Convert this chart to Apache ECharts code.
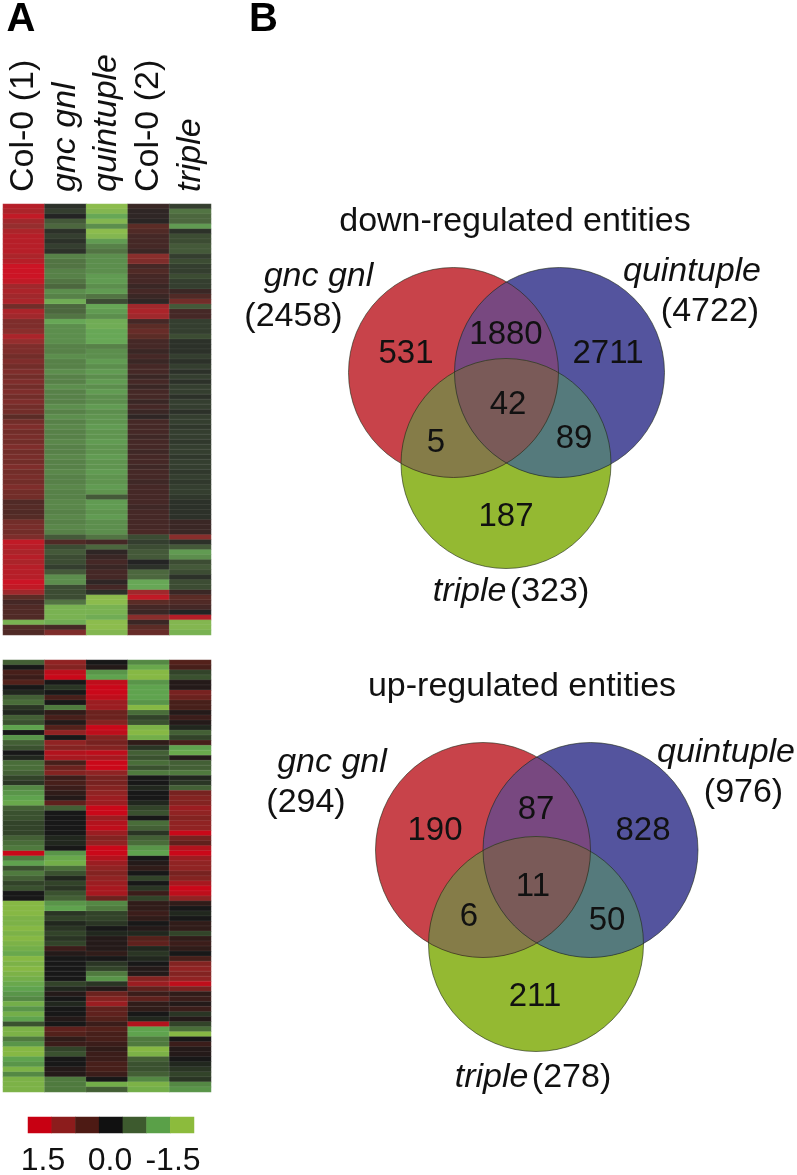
<!DOCTYPE html>
<html><head><meta charset="utf-8">
<style>html,body{margin:0;padding:0;background:#fff}#c{width:797px;height:1175px}</style>
<script src="https://cdn.jsdelivr.net/npm/echarts@6/dist/echarts.min.js"></script>
</head><body><div id="c"></div>
<script>
// ---------- data ----------
const columns = ['Col-0 (1)', 'gnc gnl', 'quintuple', 'Col-0 (2)', 'triple'];
const italicColumns = ['gnc gnl', 'quintuple', 'triple'];
const legendValues = [1.5, 1, 0.5, 0, -0.5, -1, -1.5];
const legendLabels = ['1.5', '0.0', '-1.5'];
const downRows = [
[1.3,-.1,-1.4,.2,-.2],[1.2,-.2,-1.3,.1,-.6],[1.4,0,-1,.1,-.5],[1.1,-.4,-1.3,.05,-.5],[1,-.5,-.8,.5,-.9],
[1.2,-.1,-1.4,.4,-.1],[1.3,-.2,-1.3,.3,-.3],[1.3,-.1,-.9,.3,-.3],[1.3,-.2,-.7,.3,-.4],[1.3,-.1,-.6,.2,-.4],
[1.2,-.7,-.8,.9,-.2],[1.3,-.6,-.8,.8,-.3],[1.5,-.6,-.8,.3,-.2],[1.5,-.7,-.8,.4,-.2],[1.5,-.7,-.9,.3,-.3],
[1.4,-.6,-.9,.3,-.2],[1.1,-.5,-.8,.2,-.2],[1.2,-.8,-.9,.3,.2],[1.1,-.7,-.6,.2,.4],[1.2,-1.1,-.3,.1,.7],
[.7,-.5,-1,1.1,-.4],[1.2,-.5,-.9,1.2,.3],[1.1,-.6,-.8,1.1,.3],[.8,-1,-1.1,.3,-.2],[.8,-.8,-1.1,.5,-.2],
[.9,-.8,-1,.6,-.2],[1.2,-.8,-1,.5,-.3],[1,-.8,-1,.3,-.1],[.8,-.7,-.7,.3,-.1],[.8,-.7,-.8,.2,-.1],
[.7,-.8,-.8,.3,-.2],[.8,-.7,-.9,.2,-.1],[.7,-.7,-.8,.3,-.2],[.8,-.8,-.9,.3,-.1],[.7,-.7,-.8,.2,-.2],
[.8,-.7,-.9,.3,-.1],[.7,-.8,-.8,.2,-.2],[.8,-.7,-.9,.3,-.2],[.7,-.7,-.8,.3,-.1],[.8,-.7,-.8,.2,-.2],
[.7,-.8,-.9,.3,-.2],[.7,-.7,-.8,.2,-.1],[.5,-.8,-.85,.1,-.2],[.7,-.7,-.85,.3,-.2],[.8,-.75,-.9,.3,-.15],
[.7,-.7,-.85,.3,-.2],[.75,-.7,-.85,.25,-.2],[.7,-.75,-.9,.3,-.15],[.8,-.7,-.85,.3,-.2],[.7,-.7,-.85,.25,-.2],
[.75,-.75,-.9,.3,-.15],[.7,-.7,-.85,.3,-.2],[.8,-.7,-.85,.25,-.2],[.7,-.75,-.9,.3,-.15],[.75,-.7,-.85,.3,-.2],
[.7,-.7,-.85,.25,-.15],[.8,-.75,-.9,.3,-.2],[.7,-.7,-.85,.3,-.2],[.7,-.7,-.4,.3,-.15],[.4,-.75,-.9,.3,-.1],
[.45,-.75,-.9,.25,-.1],[.4,-.7,-.85,.3,-.1],[.45,-.75,-.9,.3,-.1],[.7,-.7,-.8,.3,.2],[.75,-.75,-.8,.3,.2],
[.7,-.7,-.8,.35,.2],[.8,-.4,-.6,-.3,.9],[1.4,.4,.3,-.2,-.1],[1.3,-.3,-.5,-.3,-.4],[1.2,-.4,.1,-.4,-.9],
[1.3,-.3,.2,-.4,-.8],[1.2,-.3,.3,0,-.3],[1.3,-.2,.2,-.1,-.4],[1.3,-.4,.3,-.5,-.3],[1.3,-.8,.3,-.5,-.1],
[1.5,-.8,.1,-1,-.3],[1.4,-.3,.3,-1,-.3],[1.1,-.3,-.1,1.1,.2],[.5,-.3,-1.4,1.4,.5],[.3,-.6,-1.4,.5,.4],
[.4,-1.2,-1.2,.3,.3],[.4,-1.2,-1.2,.2,0],[.4,-1.2,-1.1,.9,1.3],[-1.2,-1.1,-1.4,.2,-1.3],[.4,.3,-1.4,.5,-1.3],
[.4,.8,-1.3,.6,-1.2]
];
const upRows = [
[-.5,1,0,-.8,.5],[0,.9,.1,-1.1,.4],[.4,1.4,-.9,-1.4,-.3],[.3,1.5,-1,-1.4,-.4],[.5,0,1.4,-.9,.1],
[0,-.2,1.5,-1,.1],[-.1,0,1.5,-1,.8],[-.5,.4,1.4,-1,.7],[-.6,0,1.1,-.9,.4],[-.2,-.7,1.1,-1.4,.4],
[-.1,.2,.7,-.6,.1],[-.5,.4,.7,-.3,.3],[-.4,.1,.9,-.4,.1],[-1,.5,1.5,-1.3,-.1],[0,1,1.4,-1.4,-.5],
[-.9,0,.9,-1.2,-.3],[-.5,1,.8,.2,.4],[-.4,.9,.9,-.2,-1],[0,1.3,1.4,-.5,-1.1],[-.1,1.2,1.2,-.4,.1],
[-.6,.4,1.5,-.6,-.5],[-.6,.7,1.5,-.4,-.5],[-.5,.9,1,-.7,-.7],[-.3,.3,.8,0,-.1],[-.2,.4,.8,0,-.2],
[-.8,.3,.9,-.1,-.5],[-.9,.2,1,0,.8],[-1,.1,1.1,0,.9],[-1.1,.6,1.1,-.1,.9],[-.5,-.5,1.5,-.3,1.1],
[-.4,0,1.5,-.4,1],[-.4,0,1.1,0,.9],[-.3,0,1.3,-.6,1],[-.3,0,1.4,-.5,1],[-.3,0,1.1,-.2,1.5],
[-.5,-.1,.9,-.5,.8],[-.6,-.1,1,-.6,.6],[-.7,0,1.5,-.9,1.3],[1.5,-.9,1.5,-1,1.5],[-.7,-1.1,1.3,0,1.1],
[-1,-1.2,1.1,.1,1],[-.4,-.6,1,.2,1],[-.7,-.4,.9,0,.8],[-.5,-.1,1,-.3,.9],[-.3,-.3,1.1,0,1.2],
[-.4,-.2,1.2,-.2,1.5],[0,-.4,1.2,.3,1.4],[0,-.5,.7,-.3,1],[-1.4,-.9,-.8,.2,.2],[-1.4,-1,-.7,.2,0],
[-1.4,-.2,-.3,.3,-.1],[-1.3,-.3,-.3,.2,0],[-1.3,-.1,-.2,0,.2],[-1.4,-.2,0,.1,.2],[-1.3,-.3,-.1,-.1,-.3],
[-1.4,-.2,.1,.5,.2],[-1.3,-.3,.1,.6,.3],[-1.2,.3,.1,-.1,.2],[-1.1,.1,.2,-.2,0],[-1.4,0,0,-.1,.4],
[-1.3,0,-.2,0,.9],[-1.4,0,-.3,.1,1],[-1.3,0,-.7,.1,.9],[-1.2,0,-.9,.9,1],[-1.1,-.3,-.2,1.1,1.4],
[-1,-.1,.1,.6,.8],[-.9,.1,.7,.3,.2],[-.8,0,.9,.6,.3],[-1.2,-.1,1.1,.2,.1],[-.9,0,.6,.2,.3],
[-1.2,0,.6,0,-.2],[-1,.1,.5,-.1,.1],[-.4,0,.3,1.3,-.3],[-1.3,.6,.5,-1,-.6],[-1.3,.5,.4,-1,-1.4],
[-.7,.2,.4,-.7,0],[-.9,.3,.3,-.7,.3],[-1.4,-.3,.2,-1.4,.1],[-1.4,-.4,.3,-1.3,.1],[-1,0,.3,-.5,0],
[-.9,0,.4,-.4,-.1],[-1.3,.1,.4,-.4,-.2],[-.8,.1,.3,-.5,-.3],[-1.3,-.7,0,-.8,-.2],[-1.3,-.7,-1.2,-1.3,-.8],
[-1.3,-.7,-.5,-1.2,-.9]
];
const downCounts = [531, 1880, 2711, 42, 5, 89, 187];
const upCounts = [190, 87, 828, 11, 6, 50, 211];
const downTotals = [2458, 4722, 323];
const upTotals = [294, 976, 278];

// ---------- layout ----------
const FONT = '"Liberation Sans", Arial, sans-serif';
const SZ = 34, NUM = 33;
const scale = ['#8cbb3c', '#5aa048', '#3d5a2e', '#111111', '#4d1a14', '#8c1c1c', '#c80012'];
const venn = {
  down: {
    title: 'down-regulated entities', titlePos: [515, 222],
    counts: downCounts, totals: downTotals,
    circles: [[453.5, 372.5, 105], [559.5, 372.5, 105], [506, 463.5, 105]],
    countPos: [[406, 354], [506, 335], [608, 354], [508, 405], [436, 443], [574, 439], [506, 517]],
    namePos: [[318.5, 277], [692, 272]], totalPos: [[293.5, 317], [710, 312]], triplePos: [511, 592]
  },
  up: {
    title: 'up-regulated entities', titlePos: [522, 687],
    counts: upCounts, totals: upTotals,
    circles: [[483, 850, 107.5], [590.5, 850, 107.5], [536, 944, 107.5]],
    countPos: [[435, 831], [536, 810], [643, 831], [533, 887], [469, 917], [607, 921], [535, 997]],
    namePos: [[332, 763], [726, 753]], totalPos: [[306, 803], [743.5, 793]], triplePos: [533, 1078]
  }
};
const regionColors = { r: '#c8434a', b: '#54549e', g: '#94b932', rb: '#784880', rg: '#857c48', bg: '#557a7c', rbg: '#7a5a58' };

function meet(a, b, other) { // the crossing of circles a and b nearest the third circle
  const dx = b[0]-a[0], dy = b[1]-a[1], d = Math.hypot(dx, dy);
  const l = (d*d + a[2]*a[2] - b[2]*b[2]) / (2*d), h = Math.sqrt(a[2]*a[2] - l*l);
  const mx = a[0]+dx*l/d, my = a[1]+dy*l/d;
  const p = [mx - dy*h/d, my + dx*h/d], q = [mx + dy*h/d, my - dx*h/d];
  const near = Math.hypot(p[0]-other[0], p[1]-other[1]) < Math.hypot(q[0]-other[0], q[1]-other[1]);
  return near ? { inner: p, outer: q } : { inner: q, outer: p };
}
function arcPts(p, q, c) { // points along the minor arc p to q of circle c
  const a0 = Math.atan2(p[1]-c[1], p[0]-c[0]), a1 = Math.atan2(q[1]-c[1], q[0]-c[0]);
  let da = a1 - a0;
  while (da > Math.PI) da -= 2*Math.PI;
  while (da < -Math.PI) da += 2*Math.PI;
  const out = [];
  for (let i = 0; i < 80; i++) {
    const t = a0 + da*i/80;
    out.push([c[0] + c[2]*Math.cos(t), c[1] + c[2]*Math.sin(t)]);
  }
  return out;
}
function lens(a, b, other) {
  const m = meet(a, b, other);
  return arcPts(m.inner, m.outer, b).concat(arcPts(m.outer, m.inner, a));
}
function triple(a, b, c) {
  const P = meet(a, b, c).inner, Q = meet(b, c, a).inner, R = meet(c, a, b).inner;
  return arcPts(P, Q, b).concat(arcPts(Q, R, c), arcPts(R, P, a));
}
function label(text, pos, extra) {
  return { type: 'text', x: pos[0], y: pos[1], z: 10, style: Object.assign({
    text, fill: '#111', font: `${SZ}px ${FONT}`, align: 'center', verticalAlign: 'middle' }, extra || {}) };
}
function vennElements(v) {
  const [R, B, G] = v.circles, out = [];
  const disk = (c, fill) => ({ type: 'circle', z: 2, shape: { cx: c[0], cy: c[1], r: c[2] }, style: { fill, stroke: 'none' } });
  const ring = c => ({ type: 'circle', z: 5, shape: { cx: c[0], cy: c[1], r: c[2] }, style: { fill: 'none', stroke: 'rgba(30,40,20,0.6)', lineWidth: 1 } });
  const patch = (pts, fill, z) => ({ type: 'polygon', z, shape: { points: pts }, style: { fill, stroke: 'none' } });
  out.push(disk(G, regionColors.g), disk(R, regionColors.r), disk(B, regionColors.b));
  out.push(patch(lens(R, B, G), regionColors.rb, 3), patch(lens(R, G, B), regionColors.rg, 3), patch(lens(B, G, R), regionColors.bg, 3));
  out.push(patch(triple(R, B, G), regionColors.rbg, 4));
  out.push(ring(R), ring(B), ring(G));
  out.push(label(v.title, v.titlePos));
  v.counts.forEach((n, i) => out.push(label(String(n), v.countPos[i], { font: `${NUM}px ${FONT}` })));
  out.push(label('gnc gnl', v.namePos[0], { font: `italic ${SZ}px ${FONT}` }));
  out.push(label('quintuple', v.namePos[1], { font: `italic ${SZ}px ${FONT}` }));
  out.push(label(`(${v.totals[0]})`, v.totalPos[0]));
  out.push(label(`(${v.totals[1]})`, v.totalPos[1]));
  out.push({ type: 'text', x: v.triplePos[0], y: v.triplePos[1], z: 10, style: {
    text: `{i|triple} {n|(${v.totals[2]})}`, align: 'center', verticalAlign: 'middle', fill: '#111',
    rich: { i: { font: `italic ${SZ}px ${FONT}`, fill: '#111' }, n: { font: `${SZ}px ${FONT}`, fill: '#111' } } } });
  return out;
}
function cells(rows) {
  const out = [];
  rows.forEach((r, y) => r.forEach((v, x) => out.push([x, y, v])));
  return out;
}
const rowIdx = rows => rows.map((_, i) => i);
const blank = { show: false };

const chart = echarts.init(document.getElementById('c'), null, { renderer: 'canvas' });
const downStyle = { opacity: 0.92, borderColor: 'rgba(255,255,255,0.1)', borderWidth: 1 };
const upStyle = { opacity: 0.97, borderColor: 'rgba(255,255,255,0.12)', borderWidth: 0.8 };
chart.setOption({
  animation: false,
  backgroundColor: '#fff',
  grid: [
    { left: 3, top: 204, width: 208, height: 431 },
    { left: 3, top: 660, width: 208, height: 432 },
    { left: 28, top: 1117, width: 166, height: 16 }
  ],
  xAxis: [
    { type: 'category', gridIndex: 0, position: 'top', data: columns, axisLine: blank, axisTick: blank, splitLine: blank,
      axisLabel: { interval: 0, rotate: -90, margin: 12, color: '#111', fontFamily: FONT, fontSize: SZ,
        formatter: s => italicColumns.includes(s) ? `{i|${s}}` : s,
        rich: { i: { fontStyle: 'italic', fontFamily: FONT, fontSize: SZ, color: '#111' } } } },
    { type: 'category', gridIndex: 1, data: columns, axisLine: blank, axisTick: blank, axisLabel: blank, splitLine: blank },
    { type: 'category', gridIndex: 2, data: legendValues, axisLine: blank, axisTick: blank, axisLabel: blank, splitLine: blank }
  ],
  yAxis: [
    { type: 'category', gridIndex: 0, inverse: true, data: rowIdx(downRows), axisLine: blank, axisTick: blank, axisLabel: blank, splitLine: blank },
    { type: 'category', gridIndex: 1, inverse: true, data: rowIdx(upRows), axisLine: blank, axisTick: blank, axisLabel: blank, splitLine: blank },
    { type: 'category', gridIndex: 2, data: ['scale'], axisLine: blank, axisTick: blank, axisLabel: blank, splitLine: blank }
  ],
  visualMap: { show: false, type: 'continuous', min: -1.5, max: 1.5, dimension: 2, seriesIndex: [0, 1, 2], inRange: { color: scale } },
  series: [
    { type: 'heatmap', xAxisIndex: 0, yAxisIndex: 0, data: cells(downRows), progressive: 0, itemStyle: downStyle, emphasis: { disabled: true } },
    { type: 'heatmap', xAxisIndex: 1, yAxisIndex: 1, data: cells(upRows), progressive: 0, itemStyle: upStyle, emphasis: { disabled: true } },
    { type: 'heatmap', xAxisIndex: 2, yAxisIndex: 2, data: legendValues.map((v, i) => [i, 0, v]), progressive: 0, emphasis: { disabled: true } }
  ],
  graphic: { elements: [
    label('A', [21, 20], { font: `bold 40px ${FONT}`, fill: '#000' }),
    label('B', [263.5, 20], { font: `bold 40px ${FONT}`, fill: '#000' }),
    label(legendLabels[0], [43, 1161], { font: `32px ${FONT}` }),
    label(legendLabels[1], [110, 1161], { font: `32px ${FONT}` }),
    label(legendLabels[2], [173, 1161], { font: `32px ${FONT}` })
  ].concat(vennElements(venn.down), vennElements(venn.up)) }
});
</script></body></html>
